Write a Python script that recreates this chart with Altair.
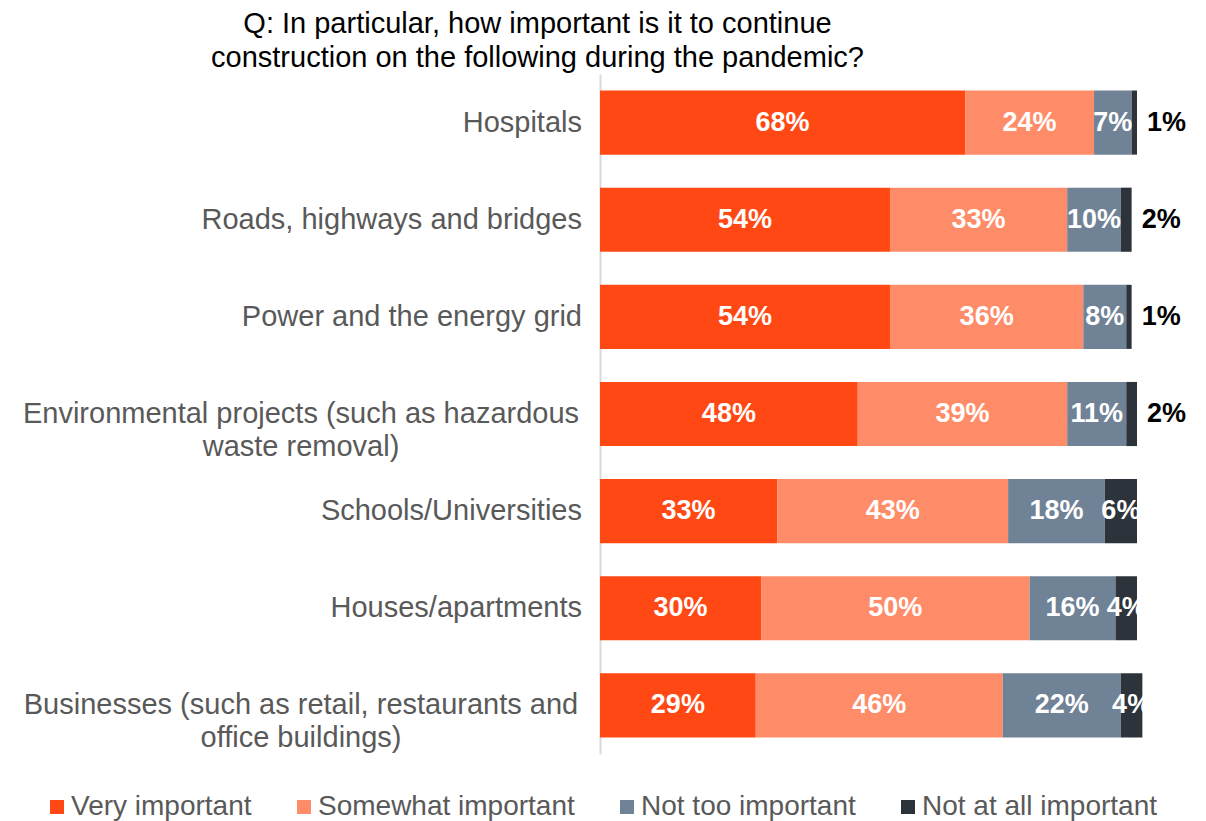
import altair as alt
import pandas as pd

categories = [
    "Hospitals",
    "Roads, highways and bridges",
    "Power and the energy grid",
    "Environmental projects (such as hazardous|waste removal)",
    "Schools/Universities",
    "Houses/apartments",
    "Businesses (such as retail, restaurants and|office buildings)",
]
series = ["Very important", "Somewhat important", "Not too important", "Not at all important"]
very_important = [68, 54, 54, 48, 33, 30, 29]
somewhat_important = [24, 33, 36, 39, 43, 50, 46]
not_too_important = [7, 10, 8, 11, 18, 16, 22]
not_at_all_important = [1, 2, 1, 2, 6, 4, 4]
colors = ["#FF4813", "#FF8C69", "#708296", "#2C333A"]

values = [very_important, somewhat_important, not_too_important, not_at_all_important]
rows = []
for i, cat in enumerate(categories):
    start = 0
    for j, s in enumerate(series):
        v = values[j][i]
        rows.append({
            "category": cat, "series": s, "order": j, "value": v,
            "start": start, "end": start + v, "mid": start + v / 2,
            "label": f"{v}%", "outside": v < 3,
        })
        start += v
df = pd.DataFrame(rows)
cat_df = pd.DataFrame({"category": categories,
                       "wrapped": ["|" in c for c in categories]})

FONT = "Liberation Sans, Arial, sans-serif"

y_scale = alt.Scale(domain=categories, paddingInner=0.34, paddingOuter=0.17)
x_scale = alt.Scale(domain=[0, 100], nice=False, zero=True)

bars = alt.Chart(df).mark_bar().encode(
    y=alt.Y("category:N", sort=categories, scale=y_scale,
            axis=alt.Axis(title=None, ticks=False, labels=False,
                          domainColor="#D9D9D9", domainWidth=2)),
    x=alt.X("start:Q", scale=x_scale, axis=None),
    x2="end:Q",
    color=alt.Color("series:N", sort=series,
                    scale=alt.Scale(domain=series, range=colors),
                    legend=alt.Legend(title=None, orient="none", direction="horizontal",
                                      columns=4, legendX=-557, legendY=719,
                                      symbolType="square", symbolSize=196,
                                      symbolStrokeWidth=0, labelFontSize=28,
                                      labelFont=FONT, labelColor="#595959",
                                      labelOffset=0, columnPadding=38, labelLimit=400)),
    order="order:Q",
)

inside = alt.Chart(df).transform_filter("!datum.outside").mark_text(
    color="white", fontWeight="bold", fontSize=27, font=FONT, baseline="middle"
).encode(
    y=alt.Y("category:N", sort=categories, scale=y_scale),
    x=alt.X("mid:Q", scale=x_scale),
    text="label:N",
)

outside = alt.Chart(df).transform_filter("datum.outside").mark_text(
    color="black", fontWeight="bold", fontSize=27, font=FONT, baseline="middle",
    align="left", dx=10
).encode(
    y=alt.Y("category:N", sort=categories, scale=y_scale),
    x=alt.X("end:Q", scale=x_scale),
    text="label:N",
)

single_labels = alt.Chart(cat_df).transform_filter("!datum.wrapped").mark_text(
    align="right", baseline="middle", fontSize=29, font=FONT, color="#595959"
).encode(
    y=alt.Y("category:N", sort=categories, scale=y_scale),
    x=alt.value(-18),
    text="category:N",
)

wrapped_labels = alt.Chart(cat_df).transform_filter("datum.wrapped").mark_text(
    align="center", baseline="middle", fontSize=29, font=FONT, color="#595959",
    lineBreak="|", lineHeight=33
).encode(
    y=alt.Y("category:N", sort=categories, scale=y_scale),
    x=alt.value(-299),
    text="category:N",
)

chart = alt.layer(bars, inside, outside, single_labels, wrapped_labels).properties(
    width=537, height=680,
    autosize=alt.AutoSizeParams(type="none"),
    padding={"left": 592, "top": 66, "right": 61, "bottom": 67},
    title=alt.TitleParams(
        text=["Q: In particular, how important is it to continue",
              "construction on the following during the pandemic?"],
        fontSize=29, font=FONT, fontWeight="normal", color="#000000",
        anchor="middle", dx=-331, lineHeight=34, offset=1,
    ),
).configure(background="white").configure_view(stroke=None)

chart.save("out.html", embed_options={"renderer": "svg", "actions": False})
